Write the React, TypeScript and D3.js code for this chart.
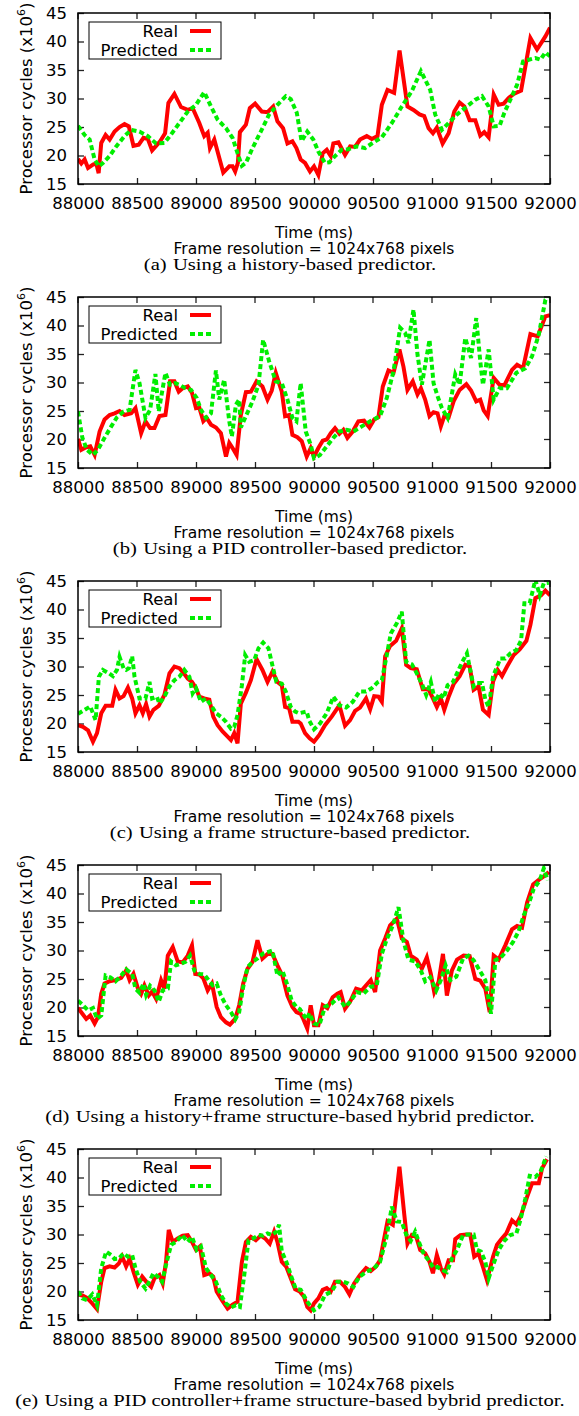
import React, { useEffect, useRef } from 'react';
import * as d3 from 'd3';

type Pt = [number, number];

// axis ticks
const timeTicks = [88000, 88500, 89000, 89500, 90000, 90500, 91000, 91500, 92000];
const cycleTicks = [15, 20, 25, 30, 35, 40, 45];

const subLabels = ['(a)', '(b)', '(c)', '(d)', '(e)'];
const subCaptions = [
  'Using a history-based predictor.',
  'Using a PID controller-based predictor.',
  'Using a frame structure-based predictor.',
  'Using a history+frame structure-based hybrid predictor.',
  'Using a PID controller+frame structure-based bybrid predictor.',
];

// (a) history-based
const historyReal: Pt[] = [
  [88000, 19.4], [88028, 18.6], [88056, 19.3], [88085, 17.8], [88127, 18.4], [88155, 18.6], [88175, 16.9],
  [88197, 22.2], [88234, 23.6], [88268, 22.8], [88310, 24.2], [88352, 25.0], [88394, 25.5], [88431, 25.1],
  [88470, 21.7], [88515, 21.9], [88555, 23.1], [88592, 22.9], [88628, 20.9], [88662, 21.7], [88696, 22.5],
  [88738, 23.9], [88766, 29.2], [88817, 30.8], [88873, 28.5], [88930, 28.0], [88972, 28.3], [89028, 25.7],
  [89070, 23.4], [89099, 24.0], [89118, 21.3], [89155, 22.8], [89231, 17.0], [89282, 18.1], [89310, 18.1],
  [89332, 17.2], [89355, 18.7], [89372, 24.1], [89423, 25.4], [89456, 28.3], [89501, 29.1], [89558, 27.7],
  [89606, 27.6], [89654, 28.6], [89690, 26.0], [89738, 24.8], [89775, 22.1], [89817, 22.5], [89851, 21.3],
  [89887, 19.3], [89924, 18.7], [89966, 17.2], [90000, 18.1], [90037, 16.6], [90074, 20.4], [90108, 21.0],
  [90142, 19.9], [90164, 22.1], [90207, 22.3], [90263, 20.1], [90306, 21.6], [90348, 21.5], [90390, 22.8],
  [90447, 23.4], [90490, 22.9], [90538, 23.4], [90575, 28.9], [90623, 31.5], [90679, 31.0], [90725, 38.4],
  [90792, 28.6], [90843, 28.0], [90894, 27.2], [90934, 26.9], [90971, 24.8], [91008, 23.9], [91041, 24.9],
  [91090, 22.1], [91141, 23.9], [91189, 27.7], [91234, 29.3], [91274, 28.6], [91319, 26.2], [91367, 26.2],
  [91409, 23.5], [91443, 24.1], [91480, 23.2], [91523, 30.7], [91565, 28.9], [91607, 29.1], [91650, 30.1],
  [91692, 30.8], [91755, 31.4], [91791, 35.6], [91834, 40.6], [91890, 38.6], [91961, 40.9], [92000, 42.4],
];
const historyPred: Pt[] = [
  [88000, 25.2], [88056, 23.6], [88099, 22.8], [88141, 19.3], [88177, 18.1], [88211, 18.7], [88268, 19.9],
  [88324, 21.6], [88394, 23.4], [88451, 24.5], [88521, 24.2], [88592, 23.4], [88662, 22.1], [88732, 22.2],
  [88789, 23.7], [88859, 25.7], [88930, 27.7], [89000, 28.9], [89070, 31.1], [89127, 28.6], [89183, 26.3],
  [89254, 24.8], [89310, 23.1], [89352, 20.4], [89389, 18.2], [89423, 18.7], [89479, 21.3], [89549, 24.2],
  [89620, 27.2], [89690, 28.9], [89761, 30.4], [89803, 29.9], [89854, 27.5], [89895, 22.5], [89943, 24.2],
  [89994, 22.8], [90037, 20.7], [90093, 18.7], [90130, 18.8], [90178, 19.9], [90235, 21.0], [90291, 21.1],
  [90362, 21.6], [90433, 21.3], [90490, 22.1], [90575, 23.2], [90660, 25.7], [90744, 28.6], [90829, 31.3],
  [90906, 34.8], [90942, 33.3], [90985, 31.5], [91027, 27.2], [91084, 24.5], [91141, 25.7], [91212, 27.2],
  [91296, 28.6], [91367, 29.8], [91424, 30.4], [91480, 28.6], [91523, 25.1], [91573, 25.2], [91613, 27.5],
  [91664, 29.8], [91721, 32.4], [91772, 36.5], [91820, 36.8], [91876, 37.1], [91919, 36.8], [91961, 38.1],
  [92000, 37.4],
];

// (b) PID controller-based
const pidReal: Pt[] = [
  [88000, 20.1], [88028, 18.2], [88065, 18.6], [88104, 18.8], [88141, 17.3], [88183, 21.4], [88225, 23.5],
  [88268, 24.3], [88310, 24.6], [88352, 25.0], [88394, 24.3], [88451, 24.6], [88487, 25.5], [88535, 21.1],
  [88572, 23.2], [88611, 22.0], [88648, 22.0], [88690, 24.1], [88741, 24.3], [88780, 30.2], [88817, 30.2],
  [88854, 28.4], [88887, 29.0], [88930, 29.3], [88966, 28.2], [89000, 25.5], [89028, 25.6], [89062, 23.2],
  [89090, 23.8], [89127, 22.6], [89169, 22.1], [89211, 21.1], [89254, 17.0], [89282, 19.4], [89310, 18.5],
  [89344, 17.3], [89380, 24.3], [89423, 28.3], [89465, 28.4], [89513, 30.2], [89563, 29.3], [89606, 27.0],
  [89642, 28.6], [89676, 31.7], [89727, 28.4], [89755, 24.1], [89789, 24.3], [89817, 20.8], [89859, 20.4],
  [89896, 19.7], [89938, 17.0], [89972, 18.5], [90000, 17.0], [90037, 18.5], [90074, 19.8], [90108, 20.0],
  [90142, 21.1], [90178, 22.0], [90215, 21.0], [90249, 21.7], [90283, 20.3], [90328, 21.4], [90376, 23.2],
  [90424, 23.3], [90470, 22.1], [90510, 23.5], [90546, 23.9], [90583, 29.3], [90631, 32.1], [90674, 31.7],
  [90724, 35.8], [90758, 32.8], [90792, 28.7], [90837, 30.2], [90877, 27.9], [90906, 29.0], [90942, 27.0],
  [90979, 24.1], [91013, 24.8], [91047, 24.6], [91075, 22.3], [91104, 24.1], [91141, 23.9], [91183, 26.7],
  [91234, 28.7], [91291, 29.7], [91331, 28.6], [91375, 26.7], [91409, 27.0], [91438, 25.1], [91472, 24.1],
  [91523, 30.8], [91573, 29.6], [91613, 29.5], [91678, 32.2], [91721, 33.1], [91772, 32.5], [91834, 38.5],
  [91896, 38.1], [91961, 41.6], [92000, 41.8],
];
const pidPred: Pt[] = [
  [88000, 24.9], [88037, 20.3], [88076, 18.2], [88127, 17.3], [88169, 18.2], [88225, 20.3], [88282, 22.3],
  [88330, 23.9], [88386, 24.9], [88437, 25.2], [88487, 32.2], [88521, 29.9], [88572, 23.8], [88611, 25.2],
  [88656, 31.5], [88684, 24.9], [88718, 29.0], [88741, 31.7], [88780, 29.6], [88825, 29.9], [88859, 29.6],
  [88910, 29.0], [88958, 28.7], [89006, 27.3], [89042, 25.2], [89085, 23.8], [89127, 24.6], [89169, 32.1],
  [89197, 27.0], [89239, 30.5], [89282, 23.2], [89304, 20.5], [89338, 26.1], [89366, 27.0], [89380, 22.1],
  [89423, 24.1], [89479, 26.7], [89530, 29.6], [89569, 37.5], [89620, 33.7], [89676, 30.2], [89727, 29.9],
  [89775, 27.0], [89817, 23.8], [89851, 23.2], [89887, 29.9], [89930, 21.4], [89972, 19.1], [90000, 16.7],
  [90051, 17.3], [90108, 18.8], [90164, 20.3], [90215, 21.4], [90277, 21.7], [90334, 21.4], [90405, 22.3],
  [90476, 23.2], [90560, 24.1], [90617, 27.3], [90674, 32.0], [90730, 39.6], [90772, 38.7], [90800, 36.9],
  [90843, 42.8], [90877, 34.9], [90914, 29.6], [90979, 37.5], [91013, 29.9], [91047, 27.6], [91084, 25.5],
  [91132, 23.8], [91160, 27.0], [91197, 31.4], [91234, 29.6], [91282, 37.8], [91331, 34.3], [91375, 41.3],
  [91409, 33.7], [91432, 29.6], [91480, 35.8], [91523, 27.0], [91573, 29.0], [91635, 29.0], [91715, 31.7],
  [91791, 32.5], [91848, 34.6], [91905, 38.4], [91961, 44.5], [91985, 45.0],
];

// (c) frame structure-based
const frameReal: Pt[] = [
  [88000, 19.7], [88042, 19.4], [88085, 18.8], [88127, 16.8], [88161, 18.3], [88197, 21.8], [88234, 23.1],
  [88290, 23.1], [88318, 25.9], [88352, 24.4], [88386, 24.8], [88423, 26.3], [88459, 24.4], [88487, 21.8],
  [88521, 23.2], [88549, 21.8], [88577, 23.4], [88606, 21.2], [88639, 22.4], [88684, 23.1], [88732, 25.0],
  [88775, 28.8], [88817, 30.0], [88859, 29.7], [88893, 28.9], [88930, 27.9], [88966, 27.3], [89000, 26.2],
  [89028, 24.7], [89070, 24.4], [89113, 24.2], [89146, 21.2], [89183, 19.7], [89225, 18.6], [89268, 17.7],
  [89296, 17.1], [89324, 18.3], [89352, 16.5], [89380, 23.5], [89423, 25.4], [89465, 27.6], [89513, 31.3],
  [89563, 29.4], [89606, 27.3], [89648, 29.1], [89690, 27.3], [89727, 26.7], [89755, 22.9], [89789, 22.7],
  [89817, 20.3], [89868, 20.3], [89887, 20.0], [89924, 18.3], [89963, 17.4], [90000, 16.8], [90045, 18.0],
  [90093, 19.7], [90150, 21.2], [90215, 23.2], [90263, 19.6], [90306, 20.6], [90348, 22.2], [90390, 22.8],
  [90441, 24.4], [90476, 22.5], [90510, 24.8], [90546, 24.7], [90575, 23.8], [90603, 31.8], [90645, 33.6],
  [90696, 34.5], [90744, 36.7], [90781, 30.3], [90820, 29.7], [90871, 29.5], [90922, 26.0], [90971, 26.0],
  [91008, 24.4], [91041, 22.9], [91075, 24.4], [91104, 22.4], [91141, 24.7], [91183, 26.9], [91234, 28.3],
  [91282, 30.3], [91319, 30.0], [91353, 25.9], [91395, 26.5], [91432, 22.4], [91480, 21.5], [91517, 27.3],
  [91557, 29.4], [91593, 28.3], [91636, 30.0], [91692, 32.0], [91743, 33.0], [91800, 34.5], [91834, 37.3],
  [91876, 42.0], [91924, 42.5], [91961, 43.3], [92000, 42.5],
];
const framePred: Pt[] = [
  [88000, 21.7], [88056, 22.4], [88104, 23.0], [88149, 20.6], [88177, 28.2], [88211, 29.4], [88262, 28.8],
  [88296, 28.3], [88330, 29.4], [88352, 31.7], [88386, 29.7], [88408, 29.4], [88431, 29.7], [88459, 31.8],
  [88479, 28.2], [88521, 24.4], [88572, 24.4], [88606, 27.3], [88628, 24.4], [88668, 24.7], [88690, 23.5],
  [88732, 24.7], [88775, 26.5], [88817, 27.6], [88859, 28.2], [88901, 29.4], [88944, 28.2], [88972, 25.3],
  [89000, 26.2], [89042, 23.8], [89085, 24.4], [89127, 23.2], [89169, 21.8], [89211, 21.2], [89254, 20.3],
  [89296, 19.1], [89324, 19.4], [89352, 21.5], [89389, 26.7], [89417, 32.0], [89451, 30.8], [89493, 31.1],
  [89530, 33.2], [89569, 34.2], [89614, 33.2], [89653, 29.7], [89681, 27.3], [89727, 27.0], [89761, 25.6],
  [89803, 22.9], [89840, 22.1], [89873, 21.8], [89938, 22.1], [89960, 20.5], [90000, 19.0], [90051, 20.0],
  [90108, 21.8], [90164, 24.7], [90215, 23.2], [90272, 22.8], [90328, 23.8], [90385, 25.6], [90441, 25.6],
  [90490, 26.2], [90538, 27.2], [90575, 27.6], [90617, 32.0], [90651, 35.8], [90702, 37.6], [90744, 39.6],
  [90781, 30.8], [90829, 30.4], [90871, 28.8], [90914, 27.0], [90951, 25.0], [90990, 27.3], [91027, 23.8],
  [91064, 25.3], [91098, 24.4], [91132, 26.7], [91178, 27.3], [91212, 28.8], [91254, 30.7], [91296, 32.3],
  [91324, 29.4], [91353, 26.5], [91381, 27.1], [91424, 27.1], [91452, 24.2], [91480, 22.9], [91517, 28.2],
  [91551, 30.0], [91579, 31.4], [91621, 31.4], [91664, 32.3], [91715, 32.9], [91755, 34.6], [91783, 41.1],
  [91828, 41.1], [91876, 45.2], [91913, 42.5], [91947, 44.6], [91990, 44.7],
];

// (d) history + frame structure hybrid
const hybridReal: Pt[] = [
  [88000, 19.9], [88037, 18.9], [88070, 18.0], [88104, 18.6], [88141, 17.2], [88169, 18.3], [88197, 22.4],
  [88225, 24.2], [88268, 24.6], [88318, 24.8], [88366, 25.2], [88408, 26.5], [88437, 24.8], [88470, 25.9],
  [88507, 23.4], [88535, 22.4], [88563, 23.9], [88600, 22.1], [88628, 22.8], [88662, 21.5], [88704, 24.8],
  [88732, 23.3], [88761, 29.1], [88803, 30.6], [88845, 28.1], [88887, 27.9], [88930, 29.1], [88966, 30.9],
  [88994, 25.9], [89028, 25.8], [89062, 25.1], [89099, 23.0], [89135, 24.2], [89175, 20.1], [89211, 18.3],
  [89254, 17.4], [89287, 17.0], [89332, 18.0], [89366, 20.4], [89400, 24.2], [89437, 26.8], [89479, 28.0],
  [89521, 31.8], [89563, 28.6], [89606, 29.4], [89648, 29.4], [89690, 27.4], [89732, 25.6], [89775, 22.1],
  [89817, 20.1], [89851, 19.2], [89887, 18.9], [89909, 18.0], [89943, 16.3], [89972, 20.4], [90000, 16.9],
  [90037, 16.9], [90074, 20.4], [90113, 19.9], [90158, 21.8], [90198, 22.4], [90226, 22.7], [90263, 19.8],
  [90306, 21.0], [90357, 23.3], [90405, 23.0], [90442, 23.9], [90481, 24.8], [90518, 22.7], [90560, 30.0],
  [90603, 32.1], [90645, 34.4], [90702, 35.6], [90744, 32.1], [90787, 31.5], [90820, 29.1], [90871, 28.4],
  [90914, 26.8], [90956, 28.8], [90990, 25.9], [91019, 22.7], [91056, 24.5], [91093, 29.4], [91126, 22.1],
  [91169, 26.5], [91212, 28.4], [91268, 29.1], [91319, 29.0], [91367, 25.0], [91409, 24.7], [91452, 23.3],
  [91489, 19.2], [91523, 29.1], [91565, 28.4], [91621, 30.9], [91678, 33.7], [91721, 34.3], [91763, 34.0],
  [91806, 38.4], [91857, 41.6], [91905, 42.4], [91961, 43.2], [91990, 43.8],
];
const hybridPred: Pt[] = [
  [88000, 21.2], [88037, 20.5], [88085, 19.5], [88127, 19.9], [88161, 18.0], [88197, 18.6], [88234, 25.6],
  [88273, 25.3], [88318, 24.6], [88366, 25.6], [88408, 26.7], [88459, 25.9], [88487, 23.3], [88521, 22.6],
  [88555, 24.2], [88577, 22.2], [88611, 23.8], [88648, 23.0], [88684, 21.0], [88718, 23.0], [88761, 23.3],
  [88789, 28.1], [88831, 27.4], [88873, 27.7], [88910, 28.0], [88949, 29.1], [88986, 26.5], [89028, 25.9],
  [89070, 25.8], [89107, 24.8], [89141, 23.9], [89175, 24.2], [89211, 22.1], [89254, 20.4], [89296, 19.2],
  [89332, 17.9], [89366, 19.2], [89400, 23.6], [89437, 27.1], [89479, 28.0], [89521, 28.6], [89563, 29.4],
  [89606, 29.7], [89648, 30.0], [89690, 25.6], [89732, 26.5], [89775, 23.9], [89811, 21.2], [89851, 20.1],
  [89881, 19.7], [89938, 17.9], [89960, 19.0], [90000, 17.2], [90045, 16.9], [90093, 20.1], [90150, 20.7],
  [90206, 21.8], [90263, 20.1], [90306, 21.0], [90362, 22.7], [90419, 22.4], [90476, 23.6], [90532, 23.9],
  [90575, 29.4], [90612, 31.7], [90668, 34.4], [90716, 37.6], [90758, 31.7], [90800, 28.4], [90857, 28.1],
  [90905, 26.5], [90942, 24.6], [90985, 25.3], [91036, 23.0], [91075, 24.8], [91115, 27.4], [91155, 24.8],
  [91206, 25.4], [91263, 28.6], [91310, 29.1], [91353, 28.3], [91404, 26.5], [91452, 24.8], [91500, 18.9],
  [91537, 28.3], [91585, 28.8], [91636, 30.0], [91687, 31.5], [91735, 33.4], [91778, 36.2], [91820, 38.2],
  [91862, 40.8], [91913, 42.3], [91947, 44.4], [91981, 42.3],
];

// (e) PID controller + frame structure hybrid
const pidFrameReal: Pt[] = [
  [88000, 19.5], [88037, 19.3], [88076, 18.9], [88121, 17.9], [88161, 16.9], [88197, 21.7], [88225, 24.1],
  [88268, 24.4], [88310, 24.2], [88346, 24.9], [88375, 26.1], [88408, 24.4], [88437, 25.7], [88470, 23.5],
  [88507, 21.2], [88544, 22.6], [88583, 21.6], [88620, 20.8], [88648, 22.3], [88690, 22.9], [88718, 21.4],
  [88746, 25.2], [88769, 30.8], [88803, 28.7], [88845, 29.3], [88887, 29.8], [88930, 29.9], [88966, 28.7],
  [89000, 27.3], [89033, 27.9], [89070, 22.9], [89113, 23.2], [89146, 22.6], [89175, 20.0], [89220, 18.5],
  [89268, 17.0], [89310, 17.7], [89352, 18.2], [89389, 25.2], [89423, 28.7], [89465, 29.6], [89507, 29.0],
  [89549, 29.8], [89586, 29.3], [89625, 28.4], [89662, 30.5], [89690, 28.7], [89727, 25.2], [89766, 24.3],
  [89803, 22.3], [89840, 20.4], [89879, 20.0], [89915, 19.1], [89943, 17.3], [89972, 16.7], [90000, 17.9],
  [90037, 18.8], [90074, 20.3], [90108, 20.6], [90142, 20.0], [90178, 21.7], [90221, 21.7], [90263, 20.8],
  [90300, 19.5], [90340, 21.4], [90390, 22.9], [90441, 24.1], [90481, 23.6], [90526, 24.4], [90560, 25.5],
  [90589, 28.7], [90623, 32.3], [90668, 31.7], [90724, 41.9], [90764, 33.7], [90792, 28.4], [90829, 29.9],
  [90866, 29.6], [90900, 27.3], [90942, 26.7], [90979, 25.2], [91008, 23.2], [91041, 26.4], [91075, 24.1],
  [91104, 23.0], [91141, 25.5], [91178, 25.5], [91197, 29.2], [91240, 29.9], [91291, 30.0], [91324, 30.0],
  [91358, 26.1], [91395, 26.7], [91432, 24.3], [91466, 22.0], [91517, 26.1], [91551, 28.2], [91585, 29.1],
  [91630, 30.2], [91678, 32.5], [91715, 31.8], [91755, 33.4], [91806, 36.6], [91848, 39.0], [91905, 39.0],
  [91933, 41.6], [91975, 43.2],
];
const pidFramePred: Pt[] = [
  [88000, 20.0], [88037, 18.8], [88076, 18.5], [88121, 19.5], [88161, 17.6], [88197, 24.1], [88239, 27.0],
  [88282, 26.4], [88310, 25.7], [88346, 25.8], [88386, 26.7], [88423, 26.1], [88459, 26.4], [88487, 24.1],
  [88527, 21.7], [88572, 20.5], [88611, 22.0], [88639, 23.2], [88676, 22.6], [88713, 21.7], [88752, 25.2],
  [88789, 28.2], [88831, 28.7], [88882, 29.9], [88930, 28.7], [88966, 29.6], [89006, 27.3], [89042, 27.9],
  [89085, 24.1], [89127, 22.9], [89169, 21.7], [89211, 19.4], [89254, 17.9], [89296, 17.2], [89338, 17.6],
  [89372, 17.3], [89409, 22.9], [89445, 29.0], [89484, 29.3], [89530, 29.9], [89569, 29.8], [89606, 30.2],
  [89642, 29.9], [89681, 30.5], [89704, 31.7], [89727, 27.0], [89766, 25.2], [89803, 22.9], [89845, 20.5],
  [89887, 20.3], [89943, 18.2], [90000, 16.7], [90045, 17.3], [90093, 19.4], [90150, 20.0], [90198, 21.7],
  [90249, 21.7], [90291, 21.4], [90334, 20.8], [90385, 22.6], [90447, 23.5], [90510, 24.1], [90560, 25.2],
  [90612, 29.3], [90660, 34.9], [90702, 32.3], [90744, 32.2], [90781, 30.0], [90820, 28.9], [90857, 30.5],
  [90894, 28.4], [90934, 26.4], [90971, 25.5], [91013, 24.1], [91047, 24.3], [91084, 23.8], [91126, 23.4],
  [91169, 25.8], [91212, 27.3], [91263, 29.9], [91310, 30.0], [91353, 30.0], [91381, 27.3], [91415, 27.0],
  [91452, 25.2], [91480, 22.3], [91517, 24.6], [91565, 27.3], [91613, 28.9], [91664, 29.9], [91715, 30.2],
  [91749, 32.5], [91791, 36.3], [91828, 40.3], [91876, 40.1], [91919, 41.0], [91969, 43.7],
];

const panels = [
  { real: historyReal, pred: historyPred },
  { real: pidReal, pred: pidPred },
  { real: frameReal, pred: framePred },
  { real: hybridReal, pred: hybridPred },
  { real: pidFrameReal, pred: pidFramePred },
];

const WIDTH = 579;
const HEIGHT = 1416;
const LEFT = 78;
const TOP = 13;
const PLOT_W = 472;
const PLOT_H = 171;
const PITCH = 284;

const SANS = 'DejaVu Sans';
const FONT_SIZE = 16.5;
const RED = '#ff0000';
const GREEN = '#00ee00';

function Panel({ index, real, pred }: { index: number; real: Pt[]; pred: Pt[] }) {
  const gRef = useRef<SVGGElement>(null);

  useEffect(() => {
    const g = d3.select(gRef.current);
    g.selectAll('*').remove();

    const x = d3.scaleLinear().domain([88000, 92000]).range([0, PLOT_W]);
    const y = d3.scaleLinear().domain([15, 45]).range([PLOT_H, 0]);

    const clipId = `clip-${index}`;
    g.append('clipPath')
      .attr('id', clipId)
      .append('rect')
      .attr('width', PLOT_W)
      .attr('height', PLOT_H);

    // bottom axis with labels, ticks pointing inward
    const xAxis = g
      .append('g')
      .attr('transform', `translate(0, ${PLOT_H})`)
      .call(d3.axisBottom(x).tickValues(timeTicks).tickSize(-6).tickPadding(13).tickFormat(d3.format('d')));
    xAxis.select('.domain').remove();

    const yAxis = g
      .append('g')
      .call(d3.axisLeft(y).tickValues(cycleTicks).tickSize(-6).tickPadding(11));
    yAxis.select('.domain').remove();

    g.selectAll('.tick text')
      .attr('font-family', SANS)
      .attr('font-size', FONT_SIZE)
      .attr('fill', '#000');
    g.selectAll('.tick line').attr('stroke', '#222').attr('stroke-width', 1.3);

    // mirrored ticks on top and right
    g.append('g')
      .selectAll('line')
      .data(timeTicks)
      .join('line')
      .attr('x1', (d) => x(d))
      .attr('x2', (d) => x(d))
      .attr('y1', 0)
      .attr('y2', 6)
      .attr('stroke', '#222')
      .attr('stroke-width', 1.3);
    g.append('g')
      .selectAll('line')
      .data(cycleTicks)
      .join('line')
      .attr('x1', PLOT_W)
      .attr('x2', PLOT_W - 6)
      .attr('y1', (d) => y(d))
      .attr('y2', (d) => y(d))
      .attr('stroke', '#222')
      .attr('stroke-width', 1.3);

    const line = d3
      .line<Pt>()
      .x((d) => x(d[0]))
      .y((d) => y(d[1]));

    const plot = g.append('g').attr('clip-path', `url(#${clipId})`);
    plot
      .append('path')
      .attr('d', line(real))
      .attr('fill', 'none')
      .attr('stroke', RED)
      .attr('stroke-width', 4);
    plot
      .append('path')
      .attr('d', line(pred))
      .attr('fill', 'none')
      .attr('stroke', GREEN)
      .attr('stroke-width', 4)
      .attr('stroke-dasharray', '5,3');

    // frame
    g.append('rect')
      .attr('width', PLOT_W)
      .attr('height', PLOT_H)
      .attr('fill', 'none')
      .attr('stroke', '#000')
      .attr('stroke-width', 1.5);

    // legend
    const legend = g.append('g').attr('transform', 'translate(11, 9)');
    legend
      .append('rect')
      .attr('width', 132)
      .attr('height', 37)
      .attr('fill', '#fff')
      .attr('stroke', '#000')
      .attr('stroke-width', 1);
    const items = [
      { label: 'Real', color: RED, dash: null, yy: 9 },
      { label: 'Predicted', color: GREEN, dash: '5,3', yy: 28 },
    ];
    items.forEach((it) => {
      legend
        .append('text')
        .attr('x', 89)
        .attr('y', it.yy)
        .attr('dy', '0.36em')
        .attr('text-anchor', 'end')
        .attr('font-family', SANS)
        .attr('font-size', FONT_SIZE)
        .text(it.label);
      legend
        .append('line')
        .attr('x1', 101)
        .attr('x2', 122)
        .attr('y1', it.yy)
        .attr('y2', it.yy)
        .attr('stroke', it.color)
        .attr('stroke-width', 4)
        .attr('stroke-dasharray', it.dash);
    });

    // axis titles
    g.append('text')
      .attr('transform', `translate(-46, ${PLOT_H / 2}) rotate(-90)`)
      .attr('text-anchor', 'middle')
      .attr('font-family', SANS)
      .attr('font-size', FONT_SIZE)
      .call((t) => {
        t.append('tspan').text('Processor cycles (x10');
        t.append('tspan').attr('dy', -7).attr('font-size', 11).text('6');
        t.append('tspan').attr('dy', 7).text(')');
      });

    g.append('text')
      .attr('x', PLOT_W / 2)
      .attr('y', PLOT_H + 53.5)
      .attr('text-anchor', 'middle')
      .attr('font-family', SANS)
      .attr('font-size', 15.5)
      .text('Time (ms)');
    g.append('text')
      .attr('x', PLOT_W / 2)
      .attr('y', PLOT_H + 69.5)
      .attr('text-anchor', 'middle')
      .attr('font-family', SANS)
      .attr('font-size', 15.5)
      .text('Frame resolution = 1024x768 pixels');

    // sub-figure caption (serif, stretched like the scanned figure)
    const cap = g
      .append('text')
      .attr('transform', `translate(${290 - LEFT}, ${PLOT_H + 85.5}) scale(1.25, 1)`)
      .attr('text-anchor', 'middle')
      .attr('font-family', 'Liberation Serif')
      .attr('font-size', 16.5);
    cap.append('tspan').text(subLabels[index]);
    cap.append('tspan').attr('dx', 5).text(subCaptions[index]);
  }, [index, real, pred]);

  return <g ref={gRef} transform={`translate(${LEFT}, ${TOP + index * PITCH})`} />;
}

export default function App() {
  return (
    <svg
      width={WIDTH}
      height={HEIGHT}
      style={{ position: 'absolute', left: 0, top: 0, background: '#fff' }}
    >
      <rect width={WIDTH} height={HEIGHT} fill='#fff' />
      {panels.map((p, i) => (
        <Panel key={i} index={i} real={p.real} pred={p.pred} />
      ))}
    </svg>
  );
}
